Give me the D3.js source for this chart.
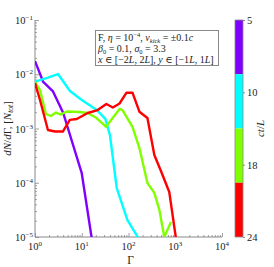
<!DOCTYPE html>
<html>
<head>
<meta charset="utf-8">
<script src="https://cdn.jsdelivr.net/npm/d3@7"></script>
<style>
  body { margin: 0; background: #fff; }
  text { font-family: "Liberation Serif", "DejaVu Serif", serif; fill: #222; }
</style>
</head>
<body>
<script>
// --- data ---
const gammaPurple = [1, 1.5, 2.4, 4, 10, 16.5];
const dndgPurple  = [1.75e-2, 7.2e-3, 4.9e-3, 1.95e-3, 1.5e-4, 9e-6];

const gammaCyan = [1, 1.9, 3.1, 5.6, 10, 21, 32, 40, 56, 95, 170];
const dndgCyan  = [7.3e-3, 8.7e-3, 1.01e-2, 4.9e-3, 3.35e-3, 2.19e-3, 1.5e-3, 7.6e-4, 8e-5, 2.05e-5, 9e-6];

const gammaGreen = [1, 1.28, 1.71, 2.19, 2.8, 3.57, 4.8, 9.06, 13.4, 20.8, 33.2, 45.7, 64.4, 74.5, 121.6, 171, 254, 357, 457, 583, 811];
const dndgGreen  = [7.2e-3, 5.1e-3, 1.85e-3, 1.7e-3, 1.97e-3, 1.81e-3, 2.06e-3, 2.01e-3, 1.93e-3, 1.56e-3, 1.07e-3, 1.56e-3, 2.29e-3, 2.19e-3, 1.07e-3, 4.37e-4, 9.9e-5, 6.5e-5, 3.16e-5, 1.0e-5, 1.9e-5];

const gammaRed = [1, 1.28, 1.89, 2.67, 3.94, 5.56, 7.83, 13.4, 21.9, 33.6, 46.3, 64.4, 90.6, 121.6, 171, 254, 357, 504, 745, 1047];
const dndgRed  = [6.9e-3, 3.35e-3, 9.4e-4, 8.8e-4, 8.8e-4, 1.44e-3, 1.5e-3, 1.93e-3, 2.19e-3, 2.83e-3, 2.44e-3, 2.89e-3, 4.57e-3, 4.57e-3, 2.04e-3, 1.56e-3, 3.25e-4, 1.58e-4, 6.76e-5, 8.8e-6];

const seriesColors = ['#8000ff', '#00ffff', '#80ff00', '#ff0000'];
const cbarTickLabels = ['5', '10', '18', '24'];
const xTickExps = [0, 1, 2, 3, 4];
const yTickExps = [-1, -2, -3, -4, -5];

const series = [
    { g: gammaPurple, v: dndgPurple },
    { g: gammaCyan, v: dndgCyan },
    { g: gammaGreen, v: dndgGreen },
    { g: gammaRed, v: dndgRed }
];

// --- layout ---
const width = 274, height = 267;
const plot = { left: 35, right: 222, top: 20, bottom: 237 };
const cbar = { left: 235, right: 243 };

const svg = d3.select('body').append('svg')
    .attr('width', width)
    .attr('height', height);

const x = d3.scaleLog().domain([1, 1e4]).range([plot.left, plot.right]);
const y = d3.scaleLog().domain([1e-5, 1e-1]).range([plot.bottom, plot.top]);

svg.append('clipPath').attr('id', 'clip')
    .append('rect')
    .attr('x', plot.left).attr('y', plot.top)
    .attr('width', plot.right - plot.left).attr('height', plot.bottom - plot.top);

// minor + major ticks (inward)
const axisColor = '#888';
const minorX = [], minorY = [];
for (let e = 0; e < 4; e++) for (let k = 2; k < 10; k++) minorX.push(k * Math.pow(10, e));
for (let e = -5; e < -1; e++) for (let k = 2; k < 10; k++) minorY.push(k * Math.pow(10, e));

const xAxis = d3.axisTop(x)
    .tickValues(xTickExps.map(e => Math.pow(10, e)))
    .tickSize(4).tickFormat('');
const yAxis = d3.axisRight(y)
    .tickValues(yTickExps.map(e => Math.pow(10, e)))
    .tickSize(4).tickFormat('');

const gx = svg.append('g').attr('transform', `translate(0,${plot.bottom})`).call(xAxis);
gx.append('g').call(d3.axisTop(x).tickValues(minorX).tickSize(2).tickFormat(''));
const gy = svg.append('g').attr('transform', `translate(${plot.left},0)`).call(yAxis);
gy.append('g').call(d3.axisRight(y).tickValues(minorY).tickSize(2).tickFormat(''));

svg.selectAll('.domain').attr('stroke', axisColor).attr('d', null);
gx.select('.domain').attr('d', `M${plot.left},0H${plot.right}`);
gy.select('.domain').attr('d', `M0,${plot.top}V${plot.bottom}`);
svg.selectAll('.tick line').attr('stroke', axisColor).attr('stroke-width', 0.8);

// tick labels
xTickExps.forEach(e => {
    const t = svg.append('text')
        .attr('x', x(Math.pow(10, e)))
        .attr('y', plot.bottom + 13)
        .attr('text-anchor', 'middle')
        .attr('font-size', 10.5);
    t.append('tspan').text('10');
    t.append('tspan').attr('font-size', 7).attr('dy', -4).text(e);
});
yTickExps.forEach(e => {
    const t = svg.append('text')
        .attr('x', plot.left - 2)
        .attr('y', y(Math.pow(10, e)) + 4)
        .attr('text-anchor', 'end')
        .attr('font-size', 10.5);
    t.append('tspan').text('10');
    t.append('tspan').attr('font-size', 7).attr('dy', -4).text('\u2212' + (-e));
});

// axis labels
svg.append('text')
    .attr('x', (plot.left + plot.right) / 2 + 2)
    .attr('y', 264)
    .attr('text-anchor', 'middle')
    .attr('font-size', 11.5)
    .text('\u0393');

const yl = svg.append('text')
    .attr('transform', `translate(11,${(plot.top + plot.bottom) / 2}) rotate(-90)`)
    .attr('text-anchor', 'middle')
    .attr('font-size', 11);
yl.append('tspan').attr('font-style', 'italic').text('dN');
yl.append('tspan').text('/');
yl.append('tspan').attr('font-style', 'italic').text('d');
yl.append('tspan').text('\u0393, [');
yl.append('tspan').attr('font-style', 'italic').text('N');
yl.append('tspan').attr('font-style', 'italic').attr('font-size', 7.5).attr('dy', 2).text('tot');
yl.append('tspan').attr('dy', -2).text(']');

// lines
const line = d3.line()
    .x(d => x(d[0]))
    .y(d => y(d[1]));

svg.append('g').attr('clip-path', 'url(#clip)')
    .selectAll('path')
    .data(series)
    .join('path')
    .attr('d', s => line(d3.zip(s.g, s.v)))
    .attr('fill', 'none')
    .attr('stroke', (s, i) => seriesColors[i])
    .attr('stroke-width', 2.4)
    .attr('stroke-linejoin', 'round');

// legend box
const box = svg.append('g');
box.append('rect')
    .attr('x', 95.5).attr('y', 30.5)
    .attr('width', 123).attr('height', 35)
    .attr('fill', '#fff')
    .attr('stroke', '#888')
    .attr('stroke-width', 1);

const fs = 10;
const l1 = box.append('text').attr('x', 98).attr('y', 41).attr('font-size', fs);
l1.append('tspan').text('F, ');
l1.append('tspan').attr('font-style', 'italic').text('\u03b7');
l1.append('tspan').text(' = 10');
l1.append('tspan').attr('font-size', 6.5).attr('dy', -4).text('\u22124');
l1.append('tspan').attr('dy', 4).text(', ');
l1.append('tspan').attr('font-style', 'italic').text('v');
l1.append('tspan').attr('font-style', 'italic').attr('font-size', 6.5).attr('dy', 2).text('kick');
l1.append('tspan').attr('dy', -2).text(' = \u00b10.1');
l1.append('tspan').attr('font-style', 'italic').text('c');

const l2 = box.append('text').attr('x', 98).attr('y', 52).attr('font-size', fs);
l2.append('tspan').attr('font-style', 'italic').text('\u03b2');
l2.append('tspan').attr('font-size', 6.5).attr('dy', 2).text('0');
l2.append('tspan').attr('dy', -2).text(' = 0.1, ');
l2.append('tspan').attr('font-style', 'italic').text('\u03c3');
l2.append('tspan').attr('font-size', 6.5).attr('dy', 2).text('0');
l2.append('tspan').attr('dy', -2).text(' = 3.3');

const l3 = box.append('text').attr('x', 98).attr('y', 63).attr('font-size', fs);
l3.append('tspan').attr('font-style', 'italic').text('x');
l3.append('tspan').text(' \u2208 [\u22122');
l3.append('tspan').attr('font-style', 'italic').text('L');
l3.append('tspan').text(', 2');
l3.append('tspan').attr('font-style', 'italic').text('L');
l3.append('tspan').text('], ');
l3.append('tspan').attr('font-style', 'italic').text('y');
l3.append('tspan').text(' \u2208 [\u22121');
l3.append('tspan').attr('font-style', 'italic').text('L');
l3.append('tspan').text(', 1');
l3.append('tspan').attr('font-style', 'italic').text('L');
l3.append('tspan').text(']');

// colorbar
const cb = d3.scaleBand().domain(d3.range(seriesColors.length)).range([plot.top, plot.bottom]);
svg.append('g').selectAll('rect')
    .data(seriesColors)
    .join('rect')
    .attr('x', cbar.left)
    .attr('y', (d, i) => cb(i))
    .attr('width', cbar.right - cbar.left)
    .attr('height', cb.bandwidth())
    .attr('fill', d => d);
svg.append('rect')
    .attr('x', cbar.left).attr('y', plot.top)
    .attr('width', cbar.right - cbar.left).attr('height', plot.bottom - plot.top)
    .attr('fill', 'none').attr('stroke', '#888').attr('stroke-width', 0.8);

const cbTick = d3.scaleLinear().domain([0, cbarTickLabels.length - 1]).range([plot.top, plot.bottom]);
const cbAxis = d3.axisRight(cbTick)
    .tickValues(d3.range(cbarTickLabels.length))
    .tickSize(2)
    .tickFormat(i => cbarTickLabels[i]);
const gcb = svg.append('g').attr('transform', `translate(${cbar.right},0)`).call(cbAxis);
gcb.select('.domain').remove();
gcb.selectAll('.tick line').attr('stroke', '#888');
gcb.selectAll('.tick text')
    .attr('font-family', '"Liberation Serif", serif')
    .attr('font-size', 10.5)
    .attr('fill', '#222')
    .attr('x', 4);

const cl = svg.append('text')
    .attr('transform', `translate(264,${(plot.top + plot.bottom) / 2}) rotate(-90)`)
    .attr('text-anchor', 'middle')
    .attr('font-size', 11)
    .attr('font-style', 'italic');
cl.append('tspan').text('ct');
cl.append('tspan').attr('font-style', 'normal').text('/');
cl.append('tspan').text('L');
</script>
</body>
</html>
